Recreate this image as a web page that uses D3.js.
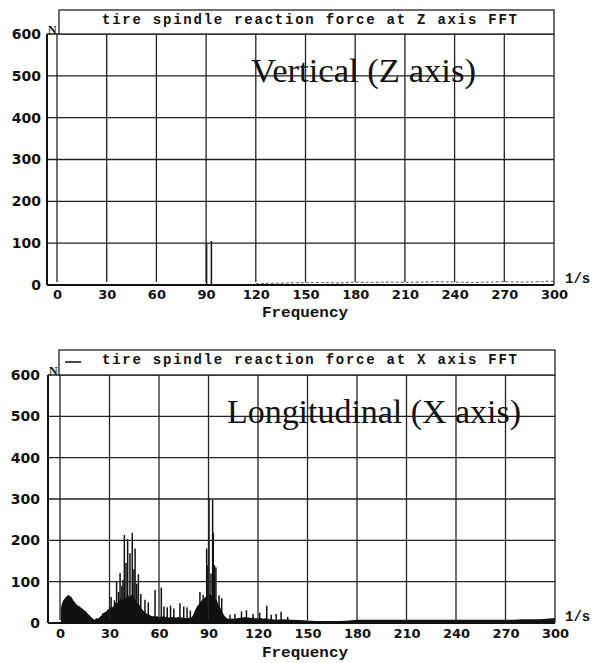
<!DOCTYPE html>
<html>
<head>
<meta charset="utf-8">
<script src="https://cdn.jsdelivr.net/npm/d3@7"></script>
<style>
  html, body { margin: 0; padding: 0; background: #fff; }
  svg { display: block; }
  .tick text { font-family: "DejaVu Sans", sans-serif; font-weight: bold; fill: #111; }
  .mono { font-family: "Liberation Mono", "DejaVu Sans Mono", monospace; font-weight: bold; fill: #111; }
  .note { font-family: "Liberation Serif", "DejaVu Serif", serif; fill: #111; }
</style>
</head>
<body>
<div id="vis"></div>
<script>
// axis ticks
var xTicks = [0, 30, 60, 90, 120, 150, 180, 210, 240, 270, 300];
var yTicks = [0, 100, 200, 300, 400, 500, 600];

// Z axis FFT (almost nothing left in the scan): spike tips + noise floor
var zSpikes = [[90.3, 100], [93.2, 105]];
var zNoiseFreq = [120, 130, 140, 150, 160, 170, 180, 190, 200, 210, 220, 230, 240, 250, 260, 270, 280, 290, 300];
var zNoiseVals = [3, 4, 5, 6, 6, 5, 7, 6, 7, 6, 7, 8, 7, 6, 7, 8, 7, 8, 9];

// X axis FFT, envelope every 1 Hz from 0 to 130
var xEnvLow = [35, 45, 55, 60, 65, 68, 66, 62, 55, 50, 45, 42, 40, 36, 33, 30, 27, 22, 18, 14,
  10, 8, 12, 10, 14, 18, 22, 26, 28, 32, 35, 40, 38, 45, 50, 48, 55, 60, 52, 65,
  58, 70, 62, 66, 72, 60, 55, 48, 45, 38, 32, 28, 25, 22, 20, 18, 16, 18, 15, 17,
  14, 16, 15, 17, 14, 16, 13, 15, 14, 16, 13, 14, 15, 12, 14, 13, 12, 11, 13, 12,
  15, 22, 32, 40, 45, 50, 55, 58, 62, 65, 68, 70, 66, 64, 60, 55, 45, 38, 30, 22,
  16, 12, 10, 9, 11, 10, 12, 11, 13, 12, 14, 13, 15, 12, 14, 13, 12, 14, 11, 12,
  10, 11, 12, 10, 11, 12, 10, 9, 10, 9, 8];
// envelope every 5 Hz from 135 to 300
var xEnvHigh = [9, 8, 7, 6, 5, 5, 5, 5, 6, 8, 8, 8, 8, 8, 8, 8, 8, 8, 8, 8,
  8, 8, 8, 8, 8, 8, 8, 8, 8, 9, 9, 9, 10, 12];
// narrow peaks [Hz, N]
var xSpikes = [[26, 24], [29, 32], [31, 63], [33, 55], [34.3, 100], [35.5, 75], [36.4, 121],
  [37.5, 90], [38.2, 104], [39, 213], [40, 145], [41, 203], [42.4, 169], [43.8, 218],
  [44.8, 130], [45.5, 180], [46.5, 95], [47.5, 118], [49, 70], [51.5, 56], [53.5, 50],
  [57.6, 80], [61.4, 86], [63, 40], [65, 38], [67, 42], [69, 35], [72.7, 48], [75, 40],
  [77, 38], [79, 30], [84.8, 75], [86.7, 68], [88.9, 180], [89.6, 140], [90.3, 302],
  [91.5, 120], [92.5, 298], [92.9, 218], [93.6, 140], [94.5, 135], [96.4, 67], [98, 60],
  [103, 20], [106, 22], [110, 28], [113, 31], [117, 22], [121, 25], [125.3, 42], [128, 20],
  [131, 22], [134, 27], [138, 15]];

var zTitle = 'tire spindle reaction force at Z axis FFT';
var xTitle = 'tire spindle reaction force at X axis FFT';

var svg = d3.select('#vis').append('svg')
  .attr('width', 595).attr('height', 663);
svg.append('rect').attr('width', 595).attr('height', 663).attr('fill', '#fff');

function drawPanel(p) {
  var g = svg.append('g');
  var x = d3.scaleLinear().domain([0, 300]).range([p.x0, p.x1]);
  var y = d3.scaleLinear().domain([0, 600]).range([p.y0, p.y1]);

  // data first so the grid sits on top like the print
  if (p.env) {
    var area = d3.area()
      .x(function(d) { return x(d[0]); })
      .y0(y(0))
      .y1(function(d) { return y(d[1]); });
    g.append('path').datum(p.env).attr('d', area).attr('fill', '#111');
  }
  if (p.noise) {
    g.append('path').datum(p.noise)
      .attr('d', d3.line().x(function(d) { return x(d[0]); }).y(function(d) { return y(d[1]); }))
      .attr('fill', 'none').attr('stroke', '#777').attr('stroke-width', 1.2)
      .attr('stroke-dasharray', '3,2');
  }
  g.selectAll('.spike').data(p.spikes).join('line')
    .attr('class', 'spike')
    .attr('x1', function(d) { return x(d[0]); })
    .attr('x2', function(d) { return x(d[0]); })
    .attr('y1', y(0))
    .attr('y2', function(d) { return y(d[1]); })
    .attr('stroke', '#111').attr('stroke-width', 1.5);

  // grid
  g.selectAll('.vg').data(xTicks).join('line')
    .attr('class', 'vg')
    .attr('x1', function(d) { return x(d); })
    .attr('x2', function(d) { return x(d); })
    .attr('y1', y(600))
    .attr('y2', function(d) { return d === 300 ? y(0) : y(0) - 3; })
    .attr('stroke', '#222').attr('stroke-width', 1.3);
  g.selectAll('.hg').data(yTicks.filter(function(d) { return d > 0; })).join('line')
    .attr('class', 'hg')
    .attr('x1', p.ax).attr('x2', x(300))
    .attr('y1', function(d) { return y(d); })
    .attr('y2', function(d) { return y(d); })
    .attr('stroke', '#222').attr('stroke-width', 1.3);

  // axis lines
  g.append('line').attr('x1', p.ax).attr('x2', p.ax).attr('y1', y(600)).attr('y2', y(0))
    .attr('stroke', '#111').attr('stroke-width', 2);
  g.append('line').attr('x1', p.ax).attr('x2', x(300)).attr('y1', y(0)).attr('y2', y(0))
    .attr('stroke', '#111').attr('stroke-width', 2.2);

  // tick labels
  var xa = g.append('g').attr('transform', 'translate(0,' + y(0) + ')')
    .call(d3.axisBottom(x).tickValues(xTicks).tickSize(0).tickPadding(p.xPad));
  xa.select('.domain').remove();
  xa.selectAll('text').style('font-size', '13px');
  var ya = g.append('g').attr('transform', 'translate(' + p.ax + ',0)')
    .call(d3.axisLeft(y).tickValues(yTicks).tickSize(0).tickPadding(p.yPad));
  ya.select('.domain').remove();
  ya.selectAll('text').style('font-size', '14px');

  // title box
  g.append('rect')
    .attr('x', p.boxX).attr('y', p.boxTop)
    .attr('width', x(300) - p.boxX).attr('height', y(600) - p.boxTop)
    .attr('fill', '#fff').attr('stroke', '#222').attr('stroke-width', 1.3);
  g.append('text').attr('class', 'mono')
    .attr('x', 102).attr('y', p.boxTop + 14)
    .attr('textLength', 415).attr('lengthAdjust', 'spacing')
    .style('font-size', '14px').text(p.title);
  if (p.dash) {
    g.append('line').attr('x1', 65).attr('x2', 81)
      .attr('y1', p.boxTop + 12).attr('y2', p.boxTop + 12)
      .attr('stroke', '#111').attr('stroke-width', 1.5);
  }

  // unit labels
  g.append('text').attr('class', 'note')
    .attr('x', p.ax + 1).attr('y', y(600))
    .style('font-size', '12px').style('font-weight', 'bold').text('N');
  g.append('text').attr('class', 'mono')
    .attr('x', 565).attr('y', y(0) - 2)
    .style('font-size', '14px').text('1/s');
  g.append('text').attr('class', 'mono')
    .attr('x', 262).attr('y', y(0) + p.freqDy)
    .attr('textLength', 86).attr('lengthAdjust', 'spacingAndGlyphs')
    .style('font-size', '14px').text('Frequency');

  // big annotation
  g.append('text').attr('class', 'note')
    .attr('x', p.noteX).attr('y', p.noteY)
    .attr('textLength', p.noteW).attr('lengthAdjust', 'spacingAndGlyphs')
    .style('font-size', '34px').text(p.note);
}

var xEnv = xEnvLow.map(function(v, i) { return [i, v]; })
  .concat(xEnvHigh.map(function(v, i) { return [135 + i * 5, v]; }));
xEnv[0] = [0.5, xEnvLow[0]];

drawPanel({
  x0: 57, x1: 554, y0: 285, y1: 34, ax: 47, xPad: 5, yPad: 6,
  boxX: 59, boxTop: 10, title: zTitle, dash: false, freqDy: 32,
  note: 'Vertical (Z axis)', noteX: 251, noteY: 82, noteW: 225,
  spikes: zSpikes,
  noise: zNoiseFreq.map(function(f, i) { return [f, zNoiseVals[i]]; })
});

drawPanel({
  x0: 60, x1: 555, y0: 623, y1: 375, ax: 48, xPad: 6, yPad: 8,
  boxX: 59, boxTop: 350, title: xTitle, dash: true, freqDy: 34,
  note: 'Longitudinal (X axis)', noteX: 227, noteY: 423, noteW: 294,
  spikes: xSpikes, env: xEnv
});
</script>
</body>
</html>
